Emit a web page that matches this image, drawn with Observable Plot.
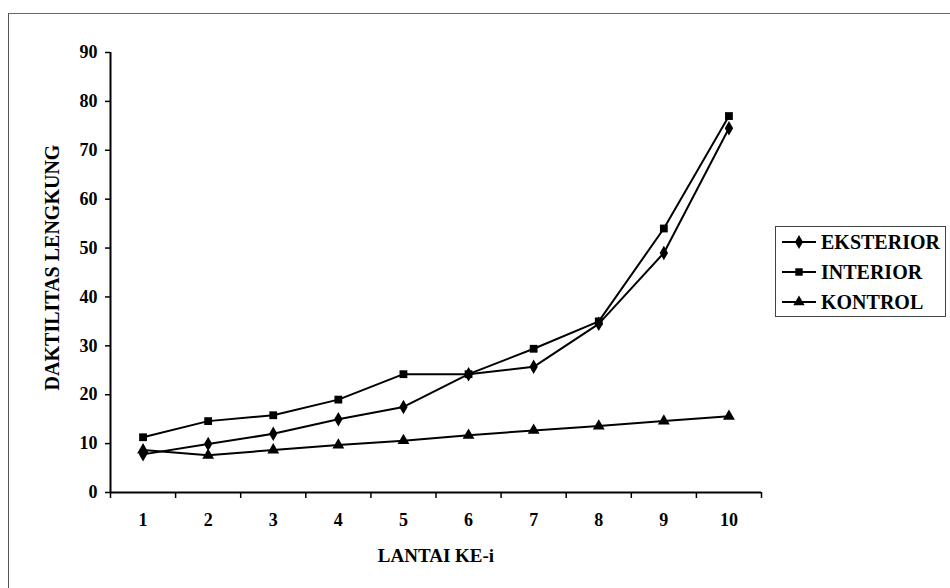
<!DOCTYPE html>
<html>
<head>
<meta charset="utf-8">
<script src="https://cdn.jsdelivr.net/npm/d3@7"></script>
<script src="https://cdn.jsdelivr.net/npm/@observablehq/plot@0.6"></script>
<style>
  html, body { margin: 0; padding: 0; background: #fff; }
  #wrap { position: relative; width: 950px; height: 588px; overflow: hidden; }
  #frame { position: absolute; left: 8px; top: 13px; width: 960px; height: 600px;
           border-left: 1px solid #555; border-top: 1px solid #666; }
  #chart { position: absolute; left: 0; top: 0; }
  #legend { position: absolute; left: 775px; top: 226px; width: 171px; height: 91px;
            border: 1px solid #444; background: #fff;
            font-family: "Liberation Serif", serif; font-weight: bold;
            font-size: 20px; color: #000; padding-top: 0px; box-sizing: border-box; }
  .row { display: flex; align-items: center; height: 30px; }
  .row svg { margin-left: 5px; margin-right: 4px; }
</style>
</head>
<body>
<div id="wrap">
  <div id="frame"></div>
  <div id="chart"></div>
  <div id="legend"></div>
</div>
<script>
const categories = [1, 2, 3, 4, 5, 6, 7, 8, 9, 10];
const seriesNames = ["EKSTERIOR", "INTERIOR", "KONTROL"];
const eksterior = [7.8, 9.9, 12.0, 15.0, 17.5, 24.2, 25.7, 34.5, 49.0, 74.5];
const interior  = [11.3, 14.6, 15.8, 19.0, 24.2, 24.2, 29.4, 35.0, 54.0, 77.0];
const kontrol   = [8.7, 7.6, 8.7, 9.7, 10.6, 11.7, 12.7, 13.6, 14.6, 15.6];
const yTicks = [0, 10, 20, 30, 40, 50, 60, 70, 80, 90];
const symbols = ["diamond", "square", "triangle"];
const xTitle = "LANTAI KE-i";
const yTitle = "DAKTILITAS LENGKUNG";

const FONT = "'Liberation Serif', serif";

const valuesBySeries = [eksterior, interior, kontrol];
const data = [];
seriesNames.forEach((s, i) => {
  categories.forEach((c, j) => data.push({series: s, lantai: c, value: valuesBySeries[i][j]}));
});
const boundaries = d3.range(categories.length + 1).map(i => categories[0] - 0.5 + i);

const chart = Plot.plot({
  width: 950,
  height: 588,
  marginLeft: 110,
  marginRight: 189,
  marginTop: 52,
  marginBottom: 96,
  style: {fontFamily: FONT, fontWeight: "bold",
          fontSize: "18px", color: "#000", background: "transparent", overflow: "visible"},
  x: {domain: [boundaries[0], boundaries[boundaries.length - 1]]},
  y: {domain: [0, 90]},
  symbol: {domain: seriesNames, range: symbols},
  marks: [
    Plot.axisY({ticks: yTicks, tickSize: 5, tickPadding: 8, tickFormat: d => d, label: null, strokeWidth: 1.5, fontFamily: FONT}),
    Plot.axisX({ticks: boundaries, tickSize: 6, tickFormat: () => "", label: null, strokeWidth: 1.5}),
    Plot.axisX({ticks: categories, tickSize: 0, tickPadding: 21, tickFormat: d => d, label: null, fontFamily: FONT}),
    Plot.ruleX([boundaries[0]], {stroke: "#000", strokeWidth: 2}),
    Plot.ruleY([0], {stroke: "#000", strokeWidth: 2}),
    Plot.line(data, {x: "lantai", y: "value", z: "series", stroke: "#000", strokeWidth: 2}),
    Plot.dot(data, {x: "lantai", y: "value", symbol: "series", fill: "#000", stroke: "none", r: 4.4}),
    Plot.text([xTitle], {frameAnchor: "bottom", dy: 69, fontSize: 19, fontWeight: "bold", fill: "#000", fontFamily: FONT}),
    Plot.text([yTitle], {frameAnchor: "left", textAnchor: "middle", dx: -58, dy: -5, rotate: -90, fontSize: 20, fontWeight: "bold", fill: "#000", fontFamily: FONT})
  ]
});
document.getElementById("chart").appendChild(chart);

// Legend
const legend = document.getElementById("legend");
seriesNames.forEach((s, i) => {
  const row = document.createElement("div");
  row.className = "row";
  const svg = d3.create("svg").attr("width", 36).attr("height", 16);
  svg.append("line").attr("x1", 1).attr("x2", 35).attr("y1", 8).attr("y2", 8)
    .attr("stroke", "#000").attr("stroke-width", 2);
  const sym = {diamond: d3.symbolDiamond, square: d3.symbolSquare, triangle: d3.symbolTriangle}[symbols[i]];
  svg.append("path").attr("d", d3.symbol(sym, Math.PI * 4.2 * 4.2)())
    .attr("transform", "translate(18,8)").attr("fill", "#000");
  row.appendChild(svg.node());
  const span = document.createElement("span");
  span.textContent = s;
  row.appendChild(span);
  legend.appendChild(row);
});
</script>
</body>
</html>
